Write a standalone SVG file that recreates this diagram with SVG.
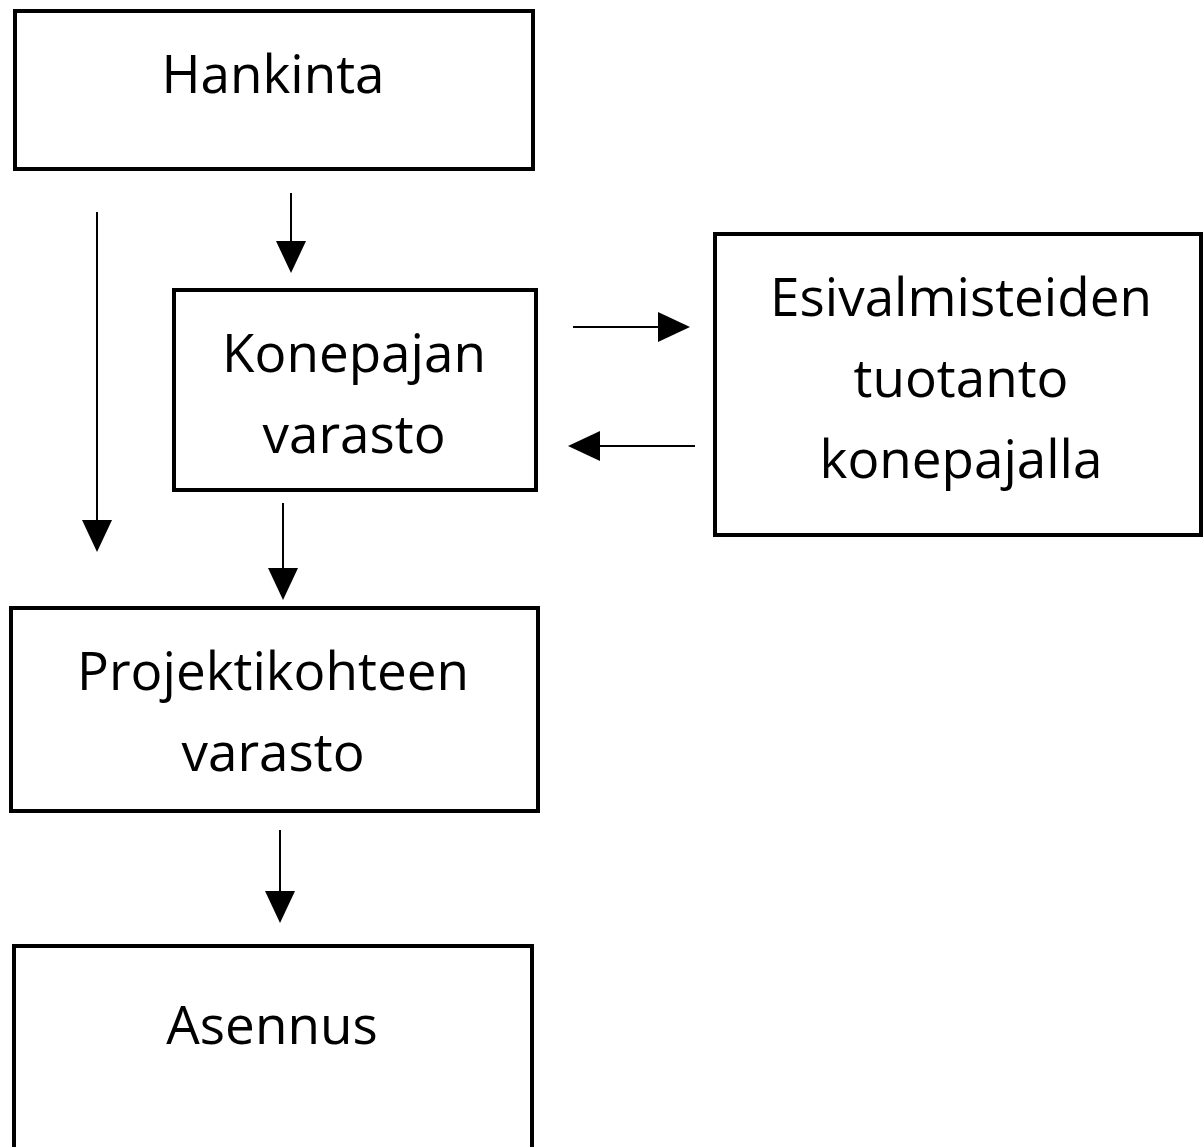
<svg xmlns="http://www.w3.org/2000/svg" width="1203" height="1147" viewBox="0 0 1203 1147">
  <style>
    .box { fill: #ffffff; stroke: #000000; stroke-width: 4; }
    .lbl { font-family: "Open Sans", "Noto Sans", "DejaVu Sans", sans-serif; font-size: 53px; fill: #000000; text-anchor: middle; }
    .conn { stroke: #000000; stroke-width: 2; fill: none; marker-end: url(#head); }
  </style>
  <defs>
    <marker id="head" markerUnits="userSpaceOnUse" markerWidth="32" markerHeight="30" refX="2" refY="15" orient="auto">
      <path d="M0,0 L32,15 L0,30 z" fill="#000000"/>
    </marker>
  </defs>
  <rect width="1203" height="1147" fill="#ffffff"/>

  <g id="hankinta">
    <rect class="box" x="15" y="11" width="518" height="158"/>
    <text class="lbl" x="273" y="93">Hankinta</text>
  </g>

  <g id="konepajan-varasto">
    <rect class="box" x="174" y="290" width="362" height="200"/>
    <text class="lbl" x="354" y="372">Konepajan</text>
    <text class="lbl" x="354" y="453">varasto</text>
  </g>

  <g id="esivalmisteiden-tuotanto">
    <rect class="box" x="715" y="234" width="486" height="301"/>
    <text class="lbl" x="961" y="316">Esivalmisteiden</text>
    <text class="lbl" x="961" y="397">tuotanto</text>
    <text class="lbl" x="961" y="478">konepajalla</text>
  </g>

  <g id="projektikohteen-varasto">
    <rect class="box" x="11" y="608" width="527" height="203"/>
    <text class="lbl" x="273" y="690">Projektikohteen</text>
    <text class="lbl" x="273" y="771">varasto</text>
  </g>

  <g id="asennus">
    <rect class="box" x="14" y="946" width="518" height="220"/>
    <text class="lbl" x="272" y="1044">Asennus</text>
  </g>

  <g id="connectors">
    <line class="conn" x1="291" y1="193" x2="291" y2="243"/>
    <line class="conn" x1="97" y1="212" x2="97" y2="522"/>
    <line class="conn" x1="573" y1="327" x2="660" y2="327"/>
    <line class="conn" x1="695" y1="446" x2="598" y2="446"/>
    <line class="conn" x1="283" y1="503" x2="283" y2="570"/>
    <line class="conn" x1="280" y1="830" x2="280" y2="893"/>
  </g>
</svg>
